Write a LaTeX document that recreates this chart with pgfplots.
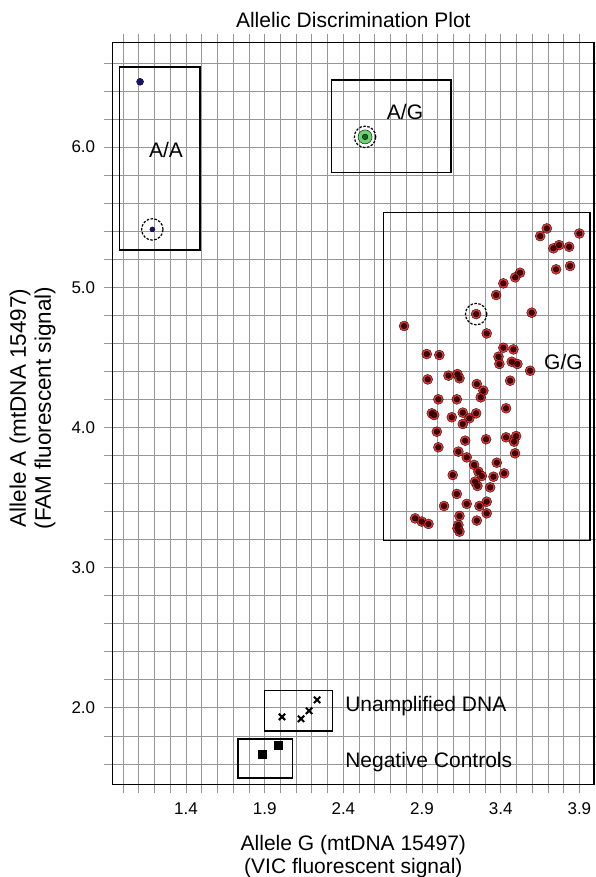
\documentclass[border=0pt]{standalone}
\usepackage{fontspec}
\setmainfont{Liberation Sans}
\usepackage{pgfplots}
\usepackage{pgfplotstable}
\pgfplotsset{compat=1.18}
\definecolor{gridgray}{RGB}{150,150,150}
\definecolor{halored}{RGB}{225,20,20}
\definecolor{darkcore}{RGB}{70,0,0}
\definecolor{lightgreen}{RGB}{110,210,110}
\definecolor{darkgreen}{RGB}{0,110,40}
\definecolor{navy}{RGB}{20,20,120}

\pgfplotstableread{
x y
3.693 5.420
3.651 5.365
3.900 5.384
3.735 5.278
3.771 5.301
3.835 5.289
3.752 5.128
3.841 5.152
3.523 5.104
3.492 5.071
3.417 5.028
3.371 4.945
3.597 4.819
3.244 4.809
2.786 4.724
3.311 4.671
3.417 4.569
3.481 4.557
3.386 4.505
3.392 4.453
3.470 4.469
3.506 4.453
3.587 4.405
2.930 4.524
3.010 4.517
3.460 4.334
3.068 4.370
3.125 4.381
3.138 4.351
2.936 4.343
3.248 4.310
3.290 4.263
3.273 4.215
3.004 4.201
3.121 4.201
3.434 4.137
2.962 4.101
2.977 4.089
3.089 4.073
3.159 4.106
3.201 4.066
3.244 4.101
3.159 4.025
2.994 3.970
3.307 3.916
3.434 3.930
3.498 3.939
3.485 3.899
3.004 3.859
3.174 3.906
3.131 3.828
3.184 3.787
3.491 3.816
3.231 3.733
3.375 3.749
3.095 3.661
3.258 3.685
3.280 3.654
3.354 3.649
3.422 3.673
3.237 3.614
3.252 3.583
3.333 3.573
3.121 3.526
3.311 3.471
3.040 3.440
3.184 3.455
3.265 3.440
3.311 3.388
2.856 3.352
2.898 3.329
2.941 3.312
3.138 3.369
3.248 3.336
3.131 3.305
3.138 3.257
3.125 3.281
}\ggdata

\begin{document}
\begin{tikzpicture}
\path[use as bounding box] (0,0) rectangle (596pt,877pt);
\begin{axis}[
  at={(112.7pt,92.7pt)}, anchor=south west,
  scale only axis, width=481.3pt, height=741.6pt,
  xmin=0.934, xmax=3.993, ymin=1.455, ymax=6.745,
  xtick={1.4,1.9,2.4,2.9,3.4,3.9},
  minor xtick={1.0,1.1,1.2,1.3,1.5,1.6,1.7,1.8,2.0,2.1,2.2,2.3,2.5,2.6,2.7,2.8,3.0,3.1,3.2,3.3,3.5,3.6,3.7,3.8},
  ytick={2,3,4,5,6},
  minor ytick={1.6,1.8,2.2,2.4,2.6,2.8,3.2,3.4,3.6,3.8,4.2,4.4,4.6,4.8,5.2,5.4,5.6,5.8,6.2,6.4,6.6},
  grid=both,
  major grid style={gridgray, line width=0.8pt},
  minor grid style={gridgray, line width=0.8pt},
  tick align=outside,
  major tick length=9pt, minor tick length=9pt,
  major tick style={gridgray, line width=0.8pt},
  minor tick style={gridgray, line width=0.8pt},
  axis line style={black, line width=1.5pt},
  tick label style={font=\fontsize{17}{20}\selectfont, black},
  xticklabel style={yshift=-6pt},
  yticklabel style={xshift=-5pt},
  /pgf/number format/fixed,
  /pgf/number format/fixed zerofill,
  /pgf/number format/precision=1,
  /pgf/number format/assume math mode=true,
  clip=false,
]
% group boxes
\draw[black, line width=1.5pt] (axis cs:0.976,5.266) rectangle (axis cs:1.489,6.573);
\draw[black, line width=1.5pt] (axis cs:2.326,5.820) rectangle (axis cs:3.085,6.478);
\draw[black, line width=1.5pt] (axis cs:2.655,3.193) rectangle (axis cs:3.968,5.535);
\draw[black, line width=1.5pt] (axis cs:1.899,1.836) rectangle (axis cs:2.330,2.123);
\draw[black, line width=1.5pt] (axis cs:1.729,1.499) rectangle (axis cs:2.076,1.777);

% G/G points
\addplot[only marks, mark=*, mark size=5, mark options={fill=halored, draw=none, opacity=0.85}] table {\ggdata};
\addplot[only marks, mark=*, mark size=2.8, mark options={fill=darkcore, draw=none}] table {\ggdata};

% A/A points
\addplot[only marks, mark=*, mark size=3.5, mark options={fill=navy, draw=none}] coordinates {(1.108,6.466)};
\addplot[only marks, mark=*, mark size=2.5, mark options={fill=navy, draw=none}] coordinates {(1.186,5.413)};

% A/G point
\addplot[only marks, mark=*, mark size=7, mark options={fill=lightgreen, draw=none}] coordinates {(2.538,6.073)};
\addplot[only marks, mark=*, mark size=2.8, mark options={fill=darkgreen, draw=none}] coordinates {(2.538,6.073)};

% circled samples
\addplot[only marks, mark=o, mark size=10.7, mark options={draw=black, line width=1.2pt, dash pattern=on 2.5pt off 1.5pt}] coordinates {(1.186,5.413) (2.538,6.073) (3.244,4.809)};

% unamplified DNA
\addplot[only marks, mark=x, mark size=4.5, mark options={draw=black, line width=2pt}] coordinates {(2.010,1.936) (2.131,1.922) (2.182,1.979) (2.233,2.057)};

% negative controls
\addplot[only marks, mark=square*, mark size=4, mark options={fill=black, draw=black}] coordinates {(1.885,1.673) (1.987,1.736)};

% labels
\node[font=\fontsize{21}{25}\selectfont] at (axis cs:1.273,5.979) {A/A};
\node[font=\fontsize{21}{25}\selectfont] at (axis cs:2.792,6.252) {A/G};
\node[font=\fontsize{21}{25}\selectfont] at (axis cs:3.799,4.469) {G/G};
\node[font=\fontsize{21}{25}\selectfont, anchor=west, inner sep=0pt] at (axis cs:2.411,2.014) {Unamplified DNA};
\node[font=\fontsize{21}{25}\selectfont, anchor=west, inner sep=0pt] at (axis cs:2.411,1.615) {Negative Controls};

% title and axis labels
\node[font=\fontsize{21}{25}\selectfont, inner sep=0pt] at ([yshift=22.7pt]rel axis cs:0.5,1) {Allelic Discrimination Plot};
\node[font=\fontsize{21}{25}\selectfont, anchor=base, inner sep=0pt] at ([yshift=-65.7pt]rel axis cs:0.5,0) {Allele G (mtDNA 15497)};
\node[font=\fontsize{21}{25}\selectfont, anchor=base, inner sep=0pt] at ([yshift=-89.2pt]rel axis cs:0.5,0) {(VIC fluorescent signal)};
\node[font=\fontsize{22.5}{26}\selectfont, rotate=90, inner sep=0pt] at ([xshift=-92.7pt]rel axis cs:0,0.5074) {Allele A (mtDNA 15497)};
\node[font=\fontsize{22.5}{26}\selectfont, rotate=90, inner sep=0pt] at ([xshift=-67.7pt]rel axis cs:0,0.5074) {(FAM fluorescent signal)};
\end{axis}
\end{tikzpicture}
\end{document}
